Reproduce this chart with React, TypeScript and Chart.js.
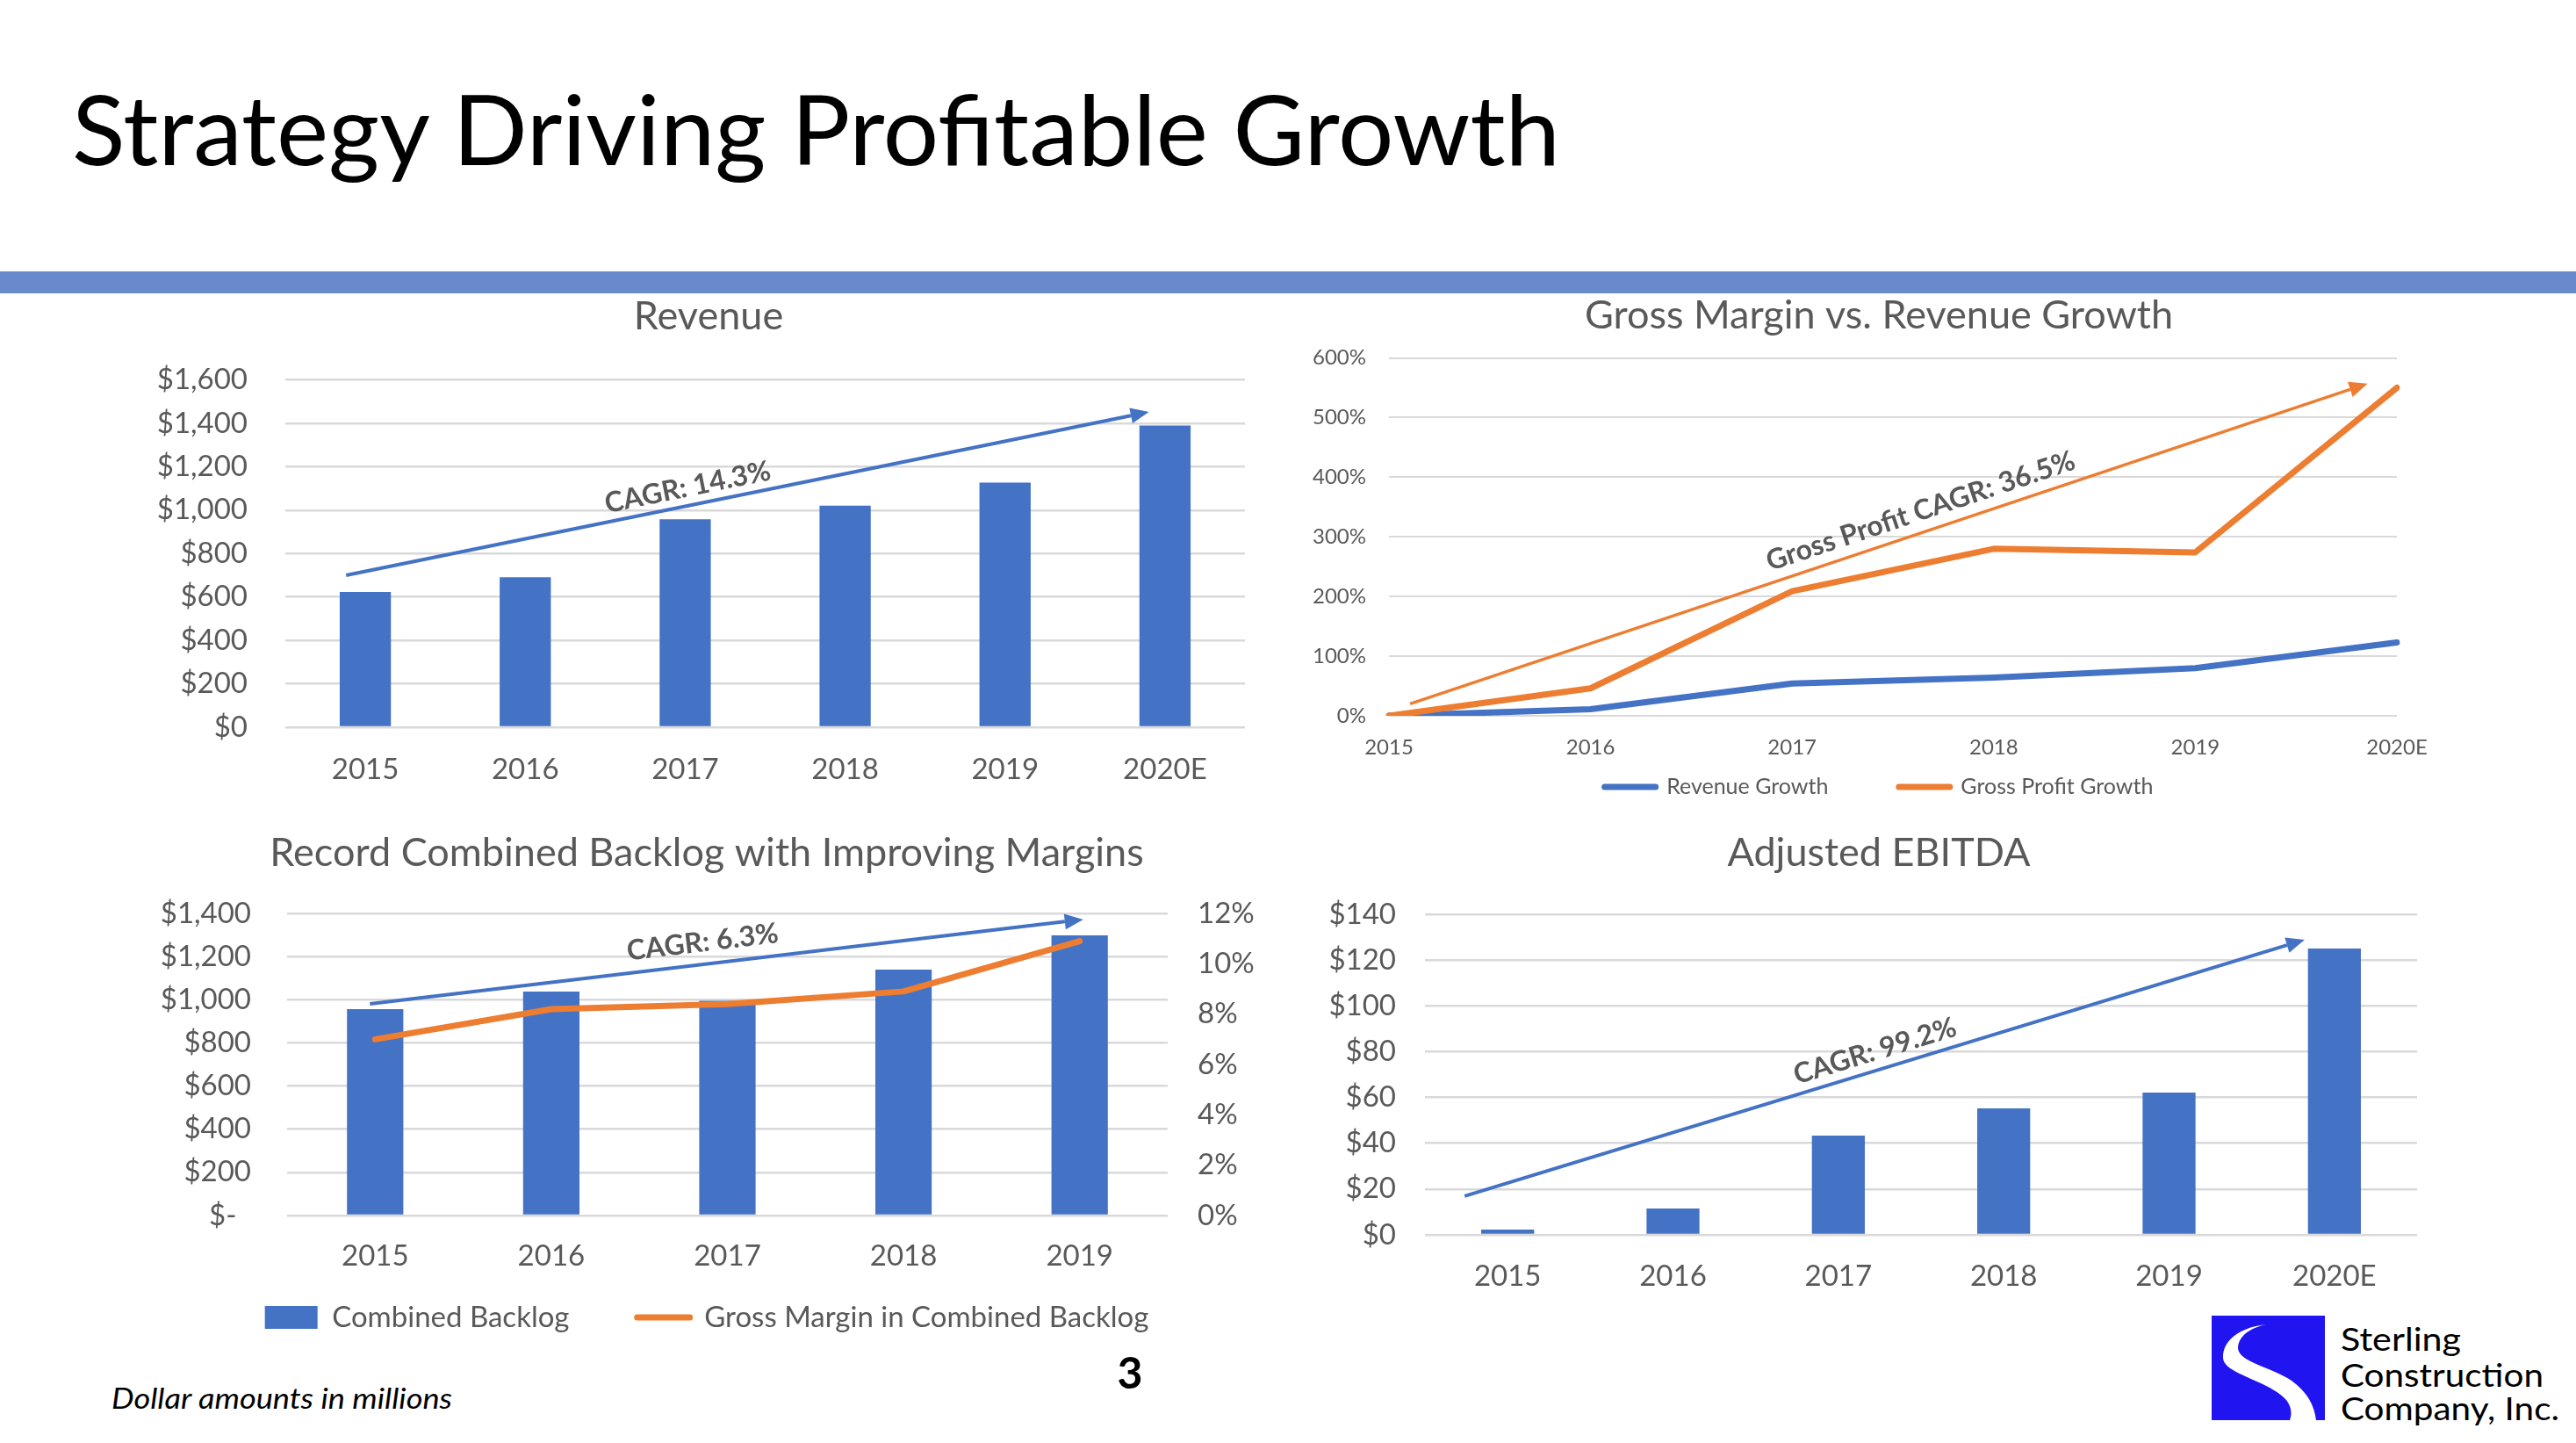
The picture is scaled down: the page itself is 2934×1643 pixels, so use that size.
import React, { useEffect, useRef } from "react";
import { Chart, registerables } from "chart.js";

Chart.register(...registerables);

const FONT = "Lato";
const GRAY = "#595959";
const GRID = "#D9D9D9";
const BLUE = "#4472C4";
const ORANGE = "#ED7D31";

// ---------- Revenue ----------
const revenueYears = ["2015", "2016", "2017", "2018", "2019", "2020E"];
const revenueValues = [623, 691, 958, 1020, 1127, 1390];
const revenueCagr = "CAGR: 14.3%";
const revenueArrowFrom = { x: -0.12, y: 700 };
const revenueArrowTo = { x: 4.9, y: 1452 };

// ---------- Gross Margin vs Revenue Growth ----------
const growthYears = ["2015", "2016", "2017", "2018", "2019", "2020E"];
const revenueGrowth = [0, 11, 54, 64, 80, 123];
const grossProfitGrowth = [0, 46, 209, 280, 274, 550];
const growthCagr = "Gross Profit CAGR: 36.5%";
const growthArrowFrom = { x: 0.105, y: 20 };
const growthArrowTo = { x: 4.855, y: 557 };

// ---------- Backlog ----------
const backlogYears = ["2015", "2016", "2017", "2018", "2019"];
const combinedBacklog = [956, 1038, 995, 1140, 1298];
const backlogMargin = [7.0, 8.2, 8.4, 8.9, 10.9];
const backlogCagr = "CAGR: 6.3%";
const backlogArrowFrom = { x: -0.03, y: 981 };
const backlogArrowTo = { x: 4.02, y: 1372 };

// ---------- Adjusted EBITDA ----------
const ebitdaYears = ["2015", "2016", "2017", "2018", "2019", "2020E"];
const ebitdaValues = [2.3, 11.5, 43.3, 55.2, 62.1, 125];
const ebitdaCagr = "CAGR: 99.2%";
const ebitdaArrowFrom = { x: -0.26, y: 16.9 };
const ebitdaArrowTo = { x: 4.82, y: 128.9 };

type ArrowSpec = {
  from: { x: number; y: number };
  to: { x: number; y: number };
  color: string;
  width: number;
  label: string;
  labelAt: number;
  labelOffset: number;
  fontSize: number;
  yAxis?: string;
};

function makeArrowPlugin(spec: ArrowSpec) {
  return {
    id: "cagrArrow",
    afterDatasetsDraw(chart: any) {
      const xs = chart.scales.x;
      const ys = chart.scales[spec.yAxis || "y"];
      const x1 = xs.getPixelForValue(spec.from.x);
      const y1 = ys.getPixelForValue(spec.from.y);
      const x2 = xs.getPixelForValue(spec.to.x);
      const y2 = ys.getPixelForValue(spec.to.y);
      const ctx = chart.ctx;
      const ang = Math.atan2(y2 - y1, x2 - x1);
      const head = 21;
      const hw = 9;
      const bx = x2 - head * Math.cos(ang);
      const by = y2 - head * Math.sin(ang);
      ctx.save();
      ctx.strokeStyle = spec.color;
      ctx.lineWidth = spec.width;
      ctx.lineCap = "butt";
      ctx.beginPath();
      ctx.moveTo(x1, y1);
      ctx.lineTo(bx, by);
      ctx.stroke();
      ctx.fillStyle = spec.color;
      ctx.beginPath();
      ctx.moveTo(x2, y2);
      ctx.lineTo(bx + hw * Math.sin(ang), by - hw * Math.cos(ang));
      ctx.lineTo(bx - hw * Math.sin(ang), by + hw * Math.cos(ang));
      ctx.closePath();
      ctx.fill();
      const mx = x1 + (x2 - x1) * spec.labelAt;
      const my = y1 + (y2 - y1) * spec.labelAt;
      const nx = Math.sin(ang);
      const ny = -Math.cos(ang);
      ctx.translate(mx + nx * spec.labelOffset, my + ny * spec.labelOffset);
      ctx.rotate(ang);
      ctx.font = `bold ${spec.fontSize}px ${FONT}`;
      ctx.fillStyle = GRAY;
      ctx.textAlign = "center";
      ctx.textBaseline = "middle";
      ctx.fillText(spec.label, 0, 0);
      ctx.restore();
    },
  };
}

const tickFont = (size: number) => ({ family: FONT, size, weight: "normal" as const });
const titleFont = { family: FONT, size: 45, weight: "normal" as const };
const dollars = (v: any) => "$" + Number(v).toLocaleString("en-US");

// empty right-hand box used only to keep the title centred like the original
const spacerAxis = (w: number) => ({
  position: "right",
  display: true,
  ticks: { display: false },
  grid: { display: false, drawTicks: false },
  border: { display: false },
  afterFit: (s: any) => {
    s.width = w;
  },
});

const baseOptions = {
  responsive: false,
  animation: false as const,
  devicePixelRatio: 1,
  events: [] as any[],
};

function revenueConfig(): any {
  return {
    type: "bar",
    data: {
      labels: revenueYears,
      datasets: [
        {
          label: "Revenue",
          data: revenueValues,
          backgroundColor: BLUE,
          barPercentage: 0.32,
          categoryPercentage: 1,
        },
      ],
    },
    options: {
      ...baseOptions,
      layout: { padding: { top: 0, left: 20, right: 10, bottom: 11 } },
      plugins: {
        legend: { display: false },
        tooltip: { enabled: false },
        title: {
          display: true,
          text: "Revenue",
          color: GRAY,
          font: titleFont,
          padding: { top: 3.4, bottom: 45.1 },
        },
      },
      scales: {
        x: {
          grid: { display: false },
          border: { display: false },
          ticks: { color: GRAY, font: tickFont(33), padding: 21, autoSkip: false, maxRotation: 0 },
          afterFit: (s: any) => {
            s.height = 66;
          },
        },
        y: {
          min: 0,
          max: 1600,
          ticks: { stepSize: 200, color: GRAY, font: tickFont(33), padding: 43, callback: dollars },
          grid: { color: GRID, lineWidth: 2.5, drawTicks: false },
          border: { display: false },
          afterFit: (s: any) => {
            s.width = 155;
          },
        },
        ySpacer: spacerAxis(26),
      },
    },
    plugins: [
      makeArrowPlugin({
        from: revenueArrowFrom,
        to: revenueArrowTo,
        color: BLUE,
        width: 4,
        label: revenueCagr,
        labelAt: 0.43,
        labelOffset: 20.5,
        fontSize: 32,
      }),
    ],
  };
}

function growthConfig(): any {
  const lineDs = (label: string, data: number[], color: string, order: number) => ({
    label,
    data,
    borderColor: color,
    backgroundColor: color,
    borderWidth: 7,
    pointRadius: 0,
    tension: 0,
    borderCapStyle: "round",
    borderJoinStyle: "round",
    order,
  });
  return {
    type: "line",
    data: {
      labels: growthYears,
      datasets: [
        lineDs("Revenue Growth", revenueGrowth, BLUE, 2),
        lineDs("Gross Profit Growth", grossProfitGrowth, ORANGE, 1),
      ],
    },
    options: {
      ...baseOptions,
      layout: { padding: { top: 0, left: 50, right: 10, bottom: 11.5 } },
      plugins: {
        tooltip: { enabled: false },
        title: {
          display: true,
          text: "Gross Margin vs. Revenue Growth",
          color: GRAY,
          font: titleFont,
          padding: { top: 2, bottom: 21.5 },
        },
        legend: {
          display: true,
          position: "bottom",
          labels: {
            usePointStyle: true,
            pointStyleWidth: 58,
            padding: 16.5,
            color: GRAY,
            font: tickFont(25),
            generateLabels: (chart: any) =>
              chart.data.datasets.map((ds: any, i: number) => ({
                text: i === 0 ? ds.label + " ".repeat(10) : ds.label,
                fillStyle: ds.borderColor,
                strokeStyle: ds.borderColor,
                lineWidth: 7,
                lineCap: "round",
                pointStyle: "line",
                hidden: false,
                datasetIndex: i,
                fontColor: GRAY,
              })),
          },
        },
      },
      scales: {
        x: {
          grid: { display: false },
          border: { display: false },
          ticks: { color: GRAY, font: tickFont(24), padding: 14, autoSkip: false, maxRotation: 0 },
          afterFit: (s: any) => {
            s.height = 52;
          },
        },
        y: {
          min: 0,
          max: 600,
          ticks: {
            stepSize: 100,
            color: GRAY,
            font: tickFont(24),
            padding: 26,
            callback: (v: any) => v + "%",
          },
          grid: { color: GRID, lineWidth: 2, drawTicks: false },
          border: { display: false },
          afterFit: (s: any) => {
            s.width = 92;
          },
        },
        ySpacer: spacerAxis(60),
      },
    },
    plugins: [
      makeArrowPlugin({
        from: growthArrowFrom,
        to: growthArrowTo,
        color: ORANGE,
        width: 3.5,
        label: growthCagr,
        labelAt: 0.54,
        labelOffset: 23.6,
        fontSize: 32,
      }),
    ],
  };
}

function backlogConfig(): any {
  return {
    type: "bar",
    data: {
      labels: backlogYears,
      datasets: [
        {
          type: "bar",
          label: "Combined Backlog",
          data: combinedBacklog,
          backgroundColor: BLUE,
          barPercentage: 0.32,
          categoryPercentage: 1,
          yAxisID: "y",
          order: 2,
        },
        {
          type: "line",
          label: "Gross Margin in Combined Backlog",
          data: backlogMargin,
          borderColor: ORANGE,
          backgroundColor: ORANGE,
          borderWidth: 7,
          pointRadius: 0,
          tension: 0,
          borderCapStyle: "round",
          borderJoinStyle: "round",
          yAxisID: "y1",
          order: 1,
        },
      ],
    },
    options: {
      ...baseOptions,
      layout: { padding: { top: 0, left: 0, right: 0, bottom: 13.5 } },
      plugins: {
        tooltip: { enabled: false },
        title: {
          display: true,
          text: "Record Combined Backlog with Improving Margins",
          color: GRAY,
          font: titleFont,
          padding: { top: 14, bottom: 42 },
        },
        legend: {
          display: true,
          position: "bottom",
          labels: {
            usePointStyle: true,
            pointStyleWidth: 60,
            boxHeight: 26,
            padding: 35,
            color: GRAY,
            font: tickFont(33),
            generateLabels: () => [
              {
                text: "Combined Backlog" + " ".repeat(5),
                fillStyle: BLUE,
                strokeStyle: BLUE,
                lineWidth: 0,
                pointStyle: "rect",
                hidden: false,
                datasetIndex: 0,
                fontColor: GRAY,
              },
              {
                text: "Gross Margin in Combined Backlog",
                fillStyle: ORANGE,
                strokeStyle: ORANGE,
                lineWidth: 7,
                lineCap: "round",
                pointStyle: "line",
                hidden: false,
                datasetIndex: 1,
                fontColor: GRAY,
              },
            ],
          },
        },
      },
      scales: {
        x: {
          grid: { display: false },
          border: { display: false },
          ticks: { color: GRAY, font: tickFont(33), padding: 19, autoSkip: false, maxRotation: 0 },
          afterFit: (s: any) => {
            s.height = 64.5;
          },
        },
        y: {
          position: "left",
          min: 0,
          max: 1400,
          ticks: {
            stepSize: 200,
            color: GRAY,
            font: tickFont(33),
            padding: 41,
            callback: (v: any) => (Number(v) === 0 ? "$-\u2002" : dollars(v)),
          },
          grid: { color: GRID, lineWidth: 2.5, drawTicks: false },
          border: { display: false },
          afterFit: (s: any) => {
            s.width = 177;
          },
        },
        y1: {
          position: "right",
          min: 0,
          max: 12,
          ticks: {
            stepSize: 2,
            color: GRAY,
            font: tickFont(33),
            padding: 34,
            callback: (v: any) => v + "%",
          },
          grid: { drawOnChartArea: false, drawTicks: false },
          border: { display: false },
          afterFit: (s: any) => {
            s.width = 130;
          },
        },
      },
    },
    plugins: [
      makeArrowPlugin({
        from: backlogArrowFrom,
        to: backlogArrowTo,
        color: BLUE,
        width: 4,
        label: backlogCagr,
        labelAt: 0.47,
        labelOffset: 25,
        fontSize: 32,
      }),
    ],
  };
}

function ebitdaConfig(): any {
  return {
    type: "bar",
    data: {
      labels: ebitdaYears,
      datasets: [
        {
          label: "Adjusted EBITDA",
          data: ebitdaValues,
          backgroundColor: BLUE,
          barPercentage: 0.32,
          categoryPercentage: 1,
        },
      ],
    },
    options: {
      ...baseOptions,
      layout: { padding: { top: 0, left: 32, right: 20, bottom: 18 } },
      plugins: {
        legend: { display: false },
        tooltip: { enabled: false },
        title: {
          display: true,
          text: "Adjusted EBITDA",
          color: GRAY,
          font: titleFont,
          padding: { top: 14, bottom: 43 },
        },
      },
      scales: {
        x: {
          grid: { display: false },
          border: { display: false },
          ticks: { color: GRAY, font: tickFont(33), padding: 20, autoSkip: false, maxRotation: 0 },
          afterFit: (s: any) => {
            s.height = 66;
          },
        },
        y: {
          min: 0,
          max: 140,
          ticks: { stepSize: 20, color: GRAY, font: tickFont(33), padding: 33, callback: dollars },
          grid: { color: GRID, lineWidth: 2.5, drawTicks: false },
          border: { display: false },
          afterFit: (s: any) => {
            s.width = 111;
          },
        },
        ySpacer: spacerAxis(15),
      },
    },
    plugins: [
      makeArrowPlugin({
        from: ebitdaArrowFrom,
        to: ebitdaArrowTo,
        color: BLUE,
        width: 4,
        label: ebitdaCagr,
        labelAt: 0.495,
        labelOffset: 21.4,
        fontSize: 32,
      }),
    ],
  };
}

function ChartCanvas(props: { left: number; top: number; width: number; height: number; build: () => any }) {
  const ref = useRef<HTMLCanvasElement>(null);
  useEffect(() => {
    const chart = new Chart(ref.current as HTMLCanvasElement, props.build());
    return () => chart.destroy();
  }, []);
  return (
    <canvas
      ref={ref}
      width={props.width}
      height={props.height}
      style={{ position: "absolute", left: props.left, top: props.top, width: props.width, height: props.height }}
    />
  );
}

export default function App() {
  return (
    <div
      style={{
        position: "absolute",
        left: 0,
        top: 0,
        width: 2934,
        height: 1643,
        background: "#ffffff",
        overflow: "hidden",
      }}
    >
      <div style={{ position: "absolute", left: 0, top: 309, width: 2934, height: 25, background: "#6889CC" }} />
      <svg
        width={2934}
        height={1643}
        style={{ position: "absolute", left: 0, top: 0 }}
        xmlns="http://www.w3.org/2000/svg"
      >
        <text
          x={82}
          y={188}
          fontFamily={FONT}
          fontSize={111}
          fill="#000000"
          textLength={1695}
          lengthAdjust="spacingAndGlyphs"
        >
          Strategy Driving Profitable Growth
        </text>
        <text
          x={127}
          y={1604}
          fontFamily={FONT}
          fontStyle="italic"
          fontSize={33}
          fill="#000000"
          textLength={388}
          lengthAdjust="spacingAndGlyphs"
        >
          Dollar amounts in millions
        </text>
        <text x={1287} y={1581} fontFamily={FONT} fontWeight="bold" fontSize={50} fill="#000000" textAnchor="middle">
          3
        </text>
        <rect x={2519} y={1498} width={129} height={119} fill="#2014F0" />
        <path
          d="M 2581 1508 C 2552 1511, 2531 1526, 2532 1546 C 2533 1565, 2583 1571, 2604 1594 C 2611 1603, 2610 1612, 2608 1617 L 2638 1617 C 2636 1600, 2628 1585, 2610 1572 C 2586 1556, 2550 1551, 2549 1535 C 2549 1522, 2562 1512, 2581 1508 Z"
          fill="#ffffff"
        />
        <text x={2666} y={1538} fontFamily={FONT} fontSize={37} fill="#000000" textLength={137} lengthAdjust="spacingAndGlyphs">
          Sterling
        </text>
        <text x={2666} y={1579} fontFamily={FONT} fontSize={37} fill="#000000" textLength={231} lengthAdjust="spacingAndGlyphs">
          Construction
        </text>
        <text x={2666} y={1617} fontFamily={FONT} fontSize={37} fill="#000000" textLength={249} lengthAdjust="spacingAndGlyphs">
          Company, Inc.
        </text>
      </svg>
      <ChartCanvas left={150} top={330} width={1304} height={575} build={revenueConfig} />
      <ChartCanvas left={1440} top={330} width={1360} height={600} build={growthConfig} />
      <ChartCanvas left={150} top={930} width={1310} height={610} build={backlogConfig} />
      <ChartCanvas left={1480} top={930} width={1308} height={560} build={ebitdaConfig} />
    </div>
  );
}
